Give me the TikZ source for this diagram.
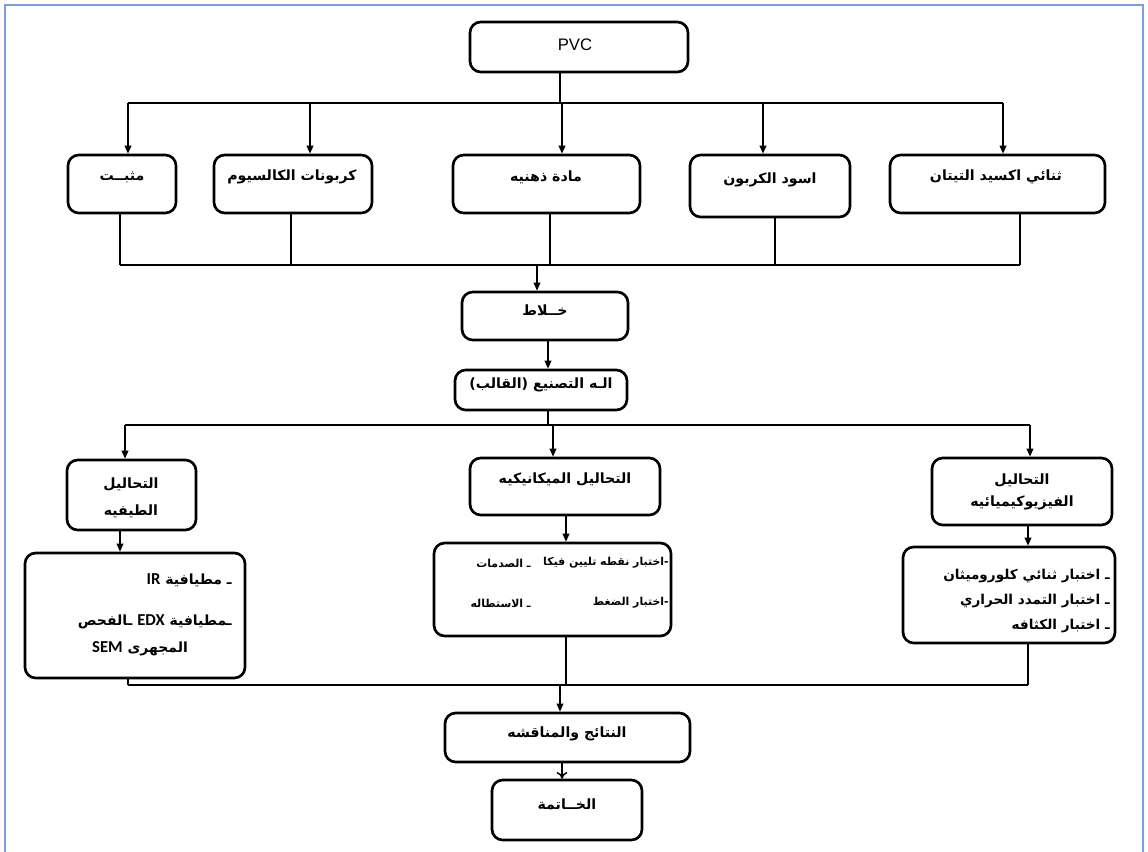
\documentclass[tikz,border=0pt]{standalone}
\usepackage{fontspec}
\setmainfont{Liberation Sans}
\newfontfamily\arabicfont[Script=Arabic]{DejaVu Sans}
\newfontfamily\calfont{Carlito}
\usetikzlibrary{arrows.meta,fit}
\TeXXeTstate=1
\newcommand{\artxt}[1]{\beginR #1\endR}
\newcommand{\lat}[1]{\beginL{\calfont\bfseries\fontsize{12.5}{12}\selectfont #1}\endL{}}
\definecolor{framec}{RGB}{120,160,215}
\tikzset{
    box/.style={draw, line width=2pt, rounded corners=8pt, inner sep=0pt},
    link/.style={line width=1.1pt},
    arrow/.style={link, -{Triangle[length=6pt,width=5pt]}},
    openarrow/.style={link, -{To[length=5pt,width=8pt]}},
    lbl/.style={font=\arabicfont\bfseries\fontsize{10.6}{12}\selectfont, inner sep=0pt},
    dtl/.style={font=\arabicfont\bfseries\fontsize{#1}{12}\selectfont, inner sep=0pt},
}

\begin{document}
\begin{tikzpicture}[x=0.75pt,y=-0.75pt]
\useasboundingbox (0,0) rectangle (1148,852);
\draw[framec, line width=2pt] (5,860) -- (5,5) -- (1143,5) -- (1143,860);

\node[box, fit={(470,22) (688,72)}] (pvc) {};
\node[font=\fontsize{12.5}{14}\selectfont, inner sep=0pt] (pvct) at (575,45) {PVC};
\node[box, fit={(68,155) (176,213)}] (stab) {};
\node[box, fit={(214,155) (372,213)}] (caco) {};
\node[box, fit={(453,155) (640,213)}] (oil) {};
\node[box, fit={(690,155) (850,217)}] (black) {};
\node[box, fit={(890,155) (1105,213)}] (tio) {};
\node[lbl] (stabt) at (122,177) {\artxt{مثبــت}};
\node[lbl] (cacot) at (292,177) {\artxt{كربونات الكالسيوم}};
\node[lbl] (oilt) at (546,177) {\artxt{مادة ذهنيه}};
\node[lbl] (blackt) at (770,180) {\artxt{اسود الكربون}};
\node[lbl] (tiot) at (996,177) {\artxt{ثنائي اكسيد التيتان}};

\node[box, fit={(462,292) (628,340)}, lbl] (mix) {\artxt{خــلاط}};
\node[box, fit={(455,370) (627,410)}, lbl] (mould) {\artxt{الـه التصنيع (القالب)}};

\node[box, fit={(67,460) (196,530)}] (spec) {};
\node[box, fit={(470,458) (660,515)}] (mech) {};
\node[box, fit={(932,458) (1112,525)}] (phys) {};
\node[lbl, align=center] (spect) at (131,498) {\artxt{التحاليل}\\[8pt]\artxt{الطيفيه}};
\node[lbl] (mecht) at (565,479) {\artxt{التحاليل الميكانيكيه}};
\node[lbl, align=center] (physt) at (1022,492) {\artxt{التحاليل}\\[5pt]\artxt{الفيزيوكيميائيه}};

\node[box, fit={(25,553) (245,678)}] (specd) {};
\node[box, fit={(434,543) (671,636)}] (mechd) {};
\node[box, fit={(903,547) (1115,643)}] (physd) {};
\node[dtl=10.5, anchor=east] (ir) at (232,580) {\artxt{ـ مطيافية \lat{IR}}};
\node[dtl=10.5, anchor=east] (edx) at (232,622) {\artxt{ـمطيافية \lat{EDX} ـالفحص}};
\node[dtl=10.5] (sem) at (140,649) {\artxt{المجهرى \lat{SEM}}};
\node[dtl=8.2, anchor=east] (vicat) at (669,563) {\artxt{-اختبار نقطه تليين فيكا}};
\node[dtl=8.2, anchor=east] (impact) at (531,563) {\artxt{ـ الصدمات}};
\node[dtl=8.2, anchor=east] (press) at (669,603) {\artxt{-اختبار الضغط}};
\node[dtl=8.2, anchor=east] (elong) at (531,603) {\artxt{ـ الاستطاله}};
\node[dtl=10.2, anchor=east] (dcm) at (1110,576) {\artxt{ـ اختبار ثنائي كلوروميثان}};
\node[dtl=10.2, anchor=east] (therm) at (1110,601) {\artxt{ـ اختبار التمدد الحراري}};
\node[dtl=10.2, anchor=east] (dens) at (1110,626) {\artxt{ـ اختبار الكثافه}};

\node[box, fit={(445,713) (690,762)}] (res) {};
\node[lbl] (rest) at (567,734) {\artxt{النتائج والمناقشه}};
\node[box, fit={(492,780) (642,840)}, lbl] (concl) {\artxt{الخــاتمة}};

\coordinate (busa) at (560,103);
\coordinate (busal) at (128,103);
\coordinate (busar) at (1003,103);
\coordinate (busb) at (537,265);
\coordinate (busbl) at (120,265);
\coordinate (busbr) at (1020,265);
\coordinate (busc) at (548,425);
\coordinate (buscl) at (125,425);
\coordinate (buscr) at (1030,425);
\coordinate (busd) at (560,685);
\coordinate (busdl) at (128,685);
\coordinate (busdr) at (1028,685);

\draw[link] (pvc.south -| busa) -- (busa);
\draw[link] (busal) -- (busar);
\draw[arrow] (busal) -- (busal |- stab.north);
\draw[arrow] (busal -| 310,0) -- (caco.north -| 310,0);
\draw[arrow] (busal -| 562,0) -- (oil.north -| 562,0);
\draw[arrow] (busal -| 763,0) -- (black.north -| 763,0);
\draw[arrow] (busar) -- (busar |- tio.north);

\draw[link] (stab.south -| busbl) -- (busbl);
\draw[link] (caco.south -| 291,0) -- (busbl -| 291,0);
\draw[link] (oil.south -| 550,0) -- (busbl -| 550,0);
\draw[link] (black.south -| 775,0) -- (busbl -| 775,0);
\draw[link] (tio.south -| busbr) -- (busbr);
\draw[link] (busbl) -- (busbr);
\draw[arrow] (busb) -- (busb |- mix.north);
\draw[arrow] (mix.south -| 548,0) -- (mould.north -| 548,0);

\draw[link] (mould.south -| busc) -- (busc);
\draw[link] (buscl) -- (buscr);
\draw[arrow] (buscl) -- (buscl |- spec.north);
\draw[arrow] (busc -| 553,0) -- (mech.north -| 553,0);
\draw[arrow] (buscr) -- (buscr |- phys.north);

\draw[arrow] (spec.south -| 120,0) -- (specd.north -| 120,0);
\draw[arrow] (mech.south -| 566,0) -- (mechd.north -| 566,0);
\draw[arrow] (phys.south -| 1028,0) -- (physd.north -| 1028,0);

\draw[link] (specd.south -| busdl) -- (busdl);
\draw[link] (mechd.south -| 566,0) -- (busd -| 566,0);
\draw[link] (physd.south -| busdr) -- (busdr);
\draw[link] (busdl) -- (busdr);
\draw[arrow] (busd) -- (busd |- res.north);
\draw[openarrow] (res.south -| 562,0) -- (concl.north -| 562,0);
\end{tikzpicture}
\end{document}
